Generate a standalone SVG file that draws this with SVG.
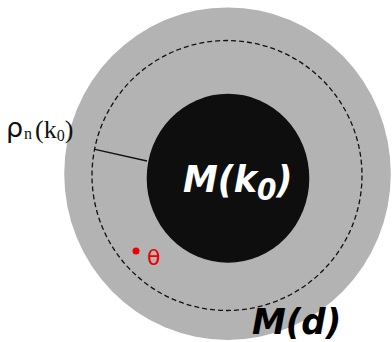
<svg xmlns="http://www.w3.org/2000/svg" width="392" height="342" viewBox="0 0 392 342">
<style>
.lbl{font-family:"DejaVu Sans",sans-serif;font-weight:bold;font-style:italic}
.ser{font-family:"Liberation Serif","DejaVu Serif",serif;fill:#111}
</style>
<rect width="392" height="342" fill="#ffffff"/>
<g id="outer">
<ellipse cx="227.5" cy="173.7" rx="163.3" ry="166.3" fill="#b3b3b3"/>
</g>
<g id="dashed">
<circle cx="227" cy="175.5" r="135" fill="none" stroke="#111" stroke-width="1.3" stroke-dasharray="5 3"/>
</g>
<g id="inner">
<ellipse cx="228" cy="178.2" rx="81.3" ry="84.5" fill="#0e0e0e"/>
<text class="lbl" x="183" y="192" font-size="35" fill="#ffffff" transform="translate(0,192) scale(1,1.08) translate(0,-192)">M(k<tspan font-size="28" dy="7">0</tspan><tspan dy="-7">)</tspan></text>
</g>
<g id="connectors">
<line x1="95" y1="149.3" x2="147" y2="161" stroke="#111" stroke-width="1.3"/>
</g>
<g id="label-rho">
<text x="6" y="137" font-family="DejaVu Sans,sans-serif" font-size="27" fill="#111">ρ</text>
<text class="ser" x="24" y="139" font-size="16">n</text>
<text class="ser" x="35" y="138" font-size="26">(k<tspan font-size="16" dy="3">0</tspan><tspan dy="-3">)</tspan></text>
</g>
<g id="theta">
<circle cx="136" cy="251" r="3.5" fill="#ee0000"/>
<text x="147" y="265" font-family="DejaVu Sans,sans-serif" font-size="22" fill="#ee0000">θ</text>
</g>
<g id="Md">
<text class="lbl" x="252" y="334" font-size="34" fill="#000" transform="translate(0,334) scale(1,1.05) translate(0,-334)">M(d)</text>
</g>
</svg>
